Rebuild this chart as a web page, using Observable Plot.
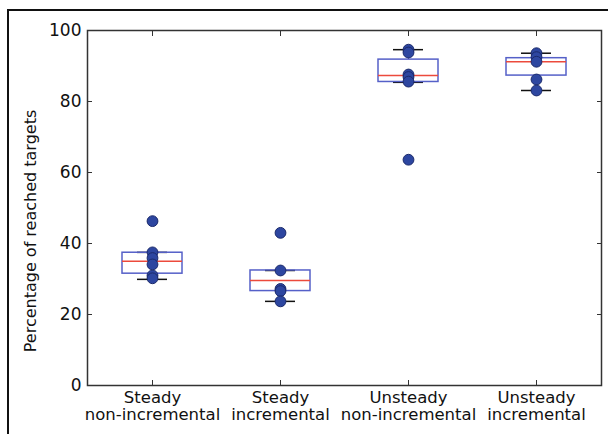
<!DOCTYPE html>
<html>
<head>
<meta charset="utf-8">
<script src="https://cdn.jsdelivr.net/npm/d3@7"></script>
<script src="https://cdn.jsdelivr.net/npm/@observablehq/plot@0.6"></script>
<style>
  html, body { margin: 0; padding: 0; background: #fff; }
  #wrap { position: relative; width: 608px; height: 434px; overflow: hidden; }
  #border { position: absolute; left: 7px; top: 9px; width: 700px; height: 500px;
            border-left: 2px solid #111; border-top: 2px solid #111; }
  #chart { position: absolute; left: 0; top: 0; }
</style>
</head>
<body>
<div id="wrap"><div id="border"></div><div id="chart"></div></div>
<script>
const categories = ["Steady\nnon-incremental", "Steady\nincremental", "Unsteady\nnon-incremental", "Unsteady\nincremental"];
const whiskerLow  = [29.9, 23.7, 85.4, 83.1];
const q1          = [31.5, 26.6, 85.5, 87.3];
const median      = [35.0, 29.6, 87.3, 91.2];
const q3          = [37.4, 32.4, 91.8, 92.2];
const whiskerHigh = [37.5, 32.4, 94.6, 93.6];
const points = [
  [46.3, 37.5, 35.9, 34.1, 31.0, 30.2],
  [43.0, 32.4, 27.2, 26.6, 23.7],
  [94.6, 93.8, 87.6, 86.9, 85.6, 63.6],
  [93.6, 92.5, 91.2, 86.2, 83.1]
];
const yTicks = [0, 20, 40, 60, 80, 100];
const yLabel = "Percentage of reached targets";

const boxes = categories.map((c, i) => ({cat: c, lo: whiskerLow[i], q1: q1[i], med: median[i], q3: q3[i], hi: whiskerHigh[i]}));
const dots = categories.flatMap((c, i) => points[i].map(v => ({cat: c, v})));

const chart = Plot.plot({
  width: 608,
  height: 434,
  marginLeft: 87,
  marginRight: 7,
  marginTop: 30,
  marginBottom: 49,
  x: {type: "band", domain: categories, padding: 0, align: 0.5, axis: null},
  y: {domain: [0, 100], axis: null},
  style: {fontFamily: "'DejaVu Sans', sans-serif", background: "transparent", color: "#111"},
  marks: [
    // whiskers (dashed blue)
    Plot.ruleX(boxes, {x: "cat", y1: "q3", y2: "hi", stroke: "#4b57c4", strokeDasharray: "4,3"}),
    Plot.ruleX(boxes, {x: "cat", y1: "lo", y2: "q1", stroke: "#4b57c4", strokeDasharray: "4,3"}),
    // caps
    Plot.tickY(boxes, {x: "cat", y: "hi", stroke: "#111", strokeWidth: 1.5, insetLeft: 49, insetRight: 49}),
    Plot.tickY(boxes, {x: "cat", y: "lo", stroke: "#111", strokeWidth: 1.5, insetLeft: 49, insetRight: 49}),
    // box
    Plot.rect(boxes, {x: "cat", y1: "q1", y2: "q3", fill: "none", stroke: "#5560c8", strokeWidth: 1.5, insetLeft: 34, insetRight: 34}),
    // median
    Plot.tickY(boxes, {x: "cat", y: "med", stroke: "#ec4a3c", strokeWidth: 1.5, insetLeft: 34, insetRight: 34}),
    // points
    Plot.dot(dots, {x: "cat", y: "v", r: 5.4, fill: "#2d46a0", stroke: "#1b2a6b", strokeWidth: 1}),
    Plot.frame({stroke: "#333", strokeWidth: 1.5}),
    // axes with inward ticks
    Plot.axisY({ticks: yTicks, anchor: "left", tickSize: -5, tickPadding: 11, fontSize: 17, label: null, stroke: "#333"}),
    Plot.axisY({ticks: yTicks, anchor: "right", tickSize: -5, tickFormat: () => "", label: null, stroke: "#333"}),
    Plot.axisX({anchor: "bottom", tickSize: -5, tickPadding: 10, fontSize: 16.5, lineHeight: 1.06, label: null, stroke: "#333"}),
    Plot.axisX({anchor: "top", tickSize: -5, tickFormat: () => "", label: null, stroke: "#333"}),
    Plot.text([yLabel], {frameAnchor: "left", textAnchor: "middle", rotate: -90, dx: -57, dy: 23, fontSize: 16, fill: "#111"})
  ]
});
document.getElementById("chart").appendChild(chart);
</script>
</body>
</html>
